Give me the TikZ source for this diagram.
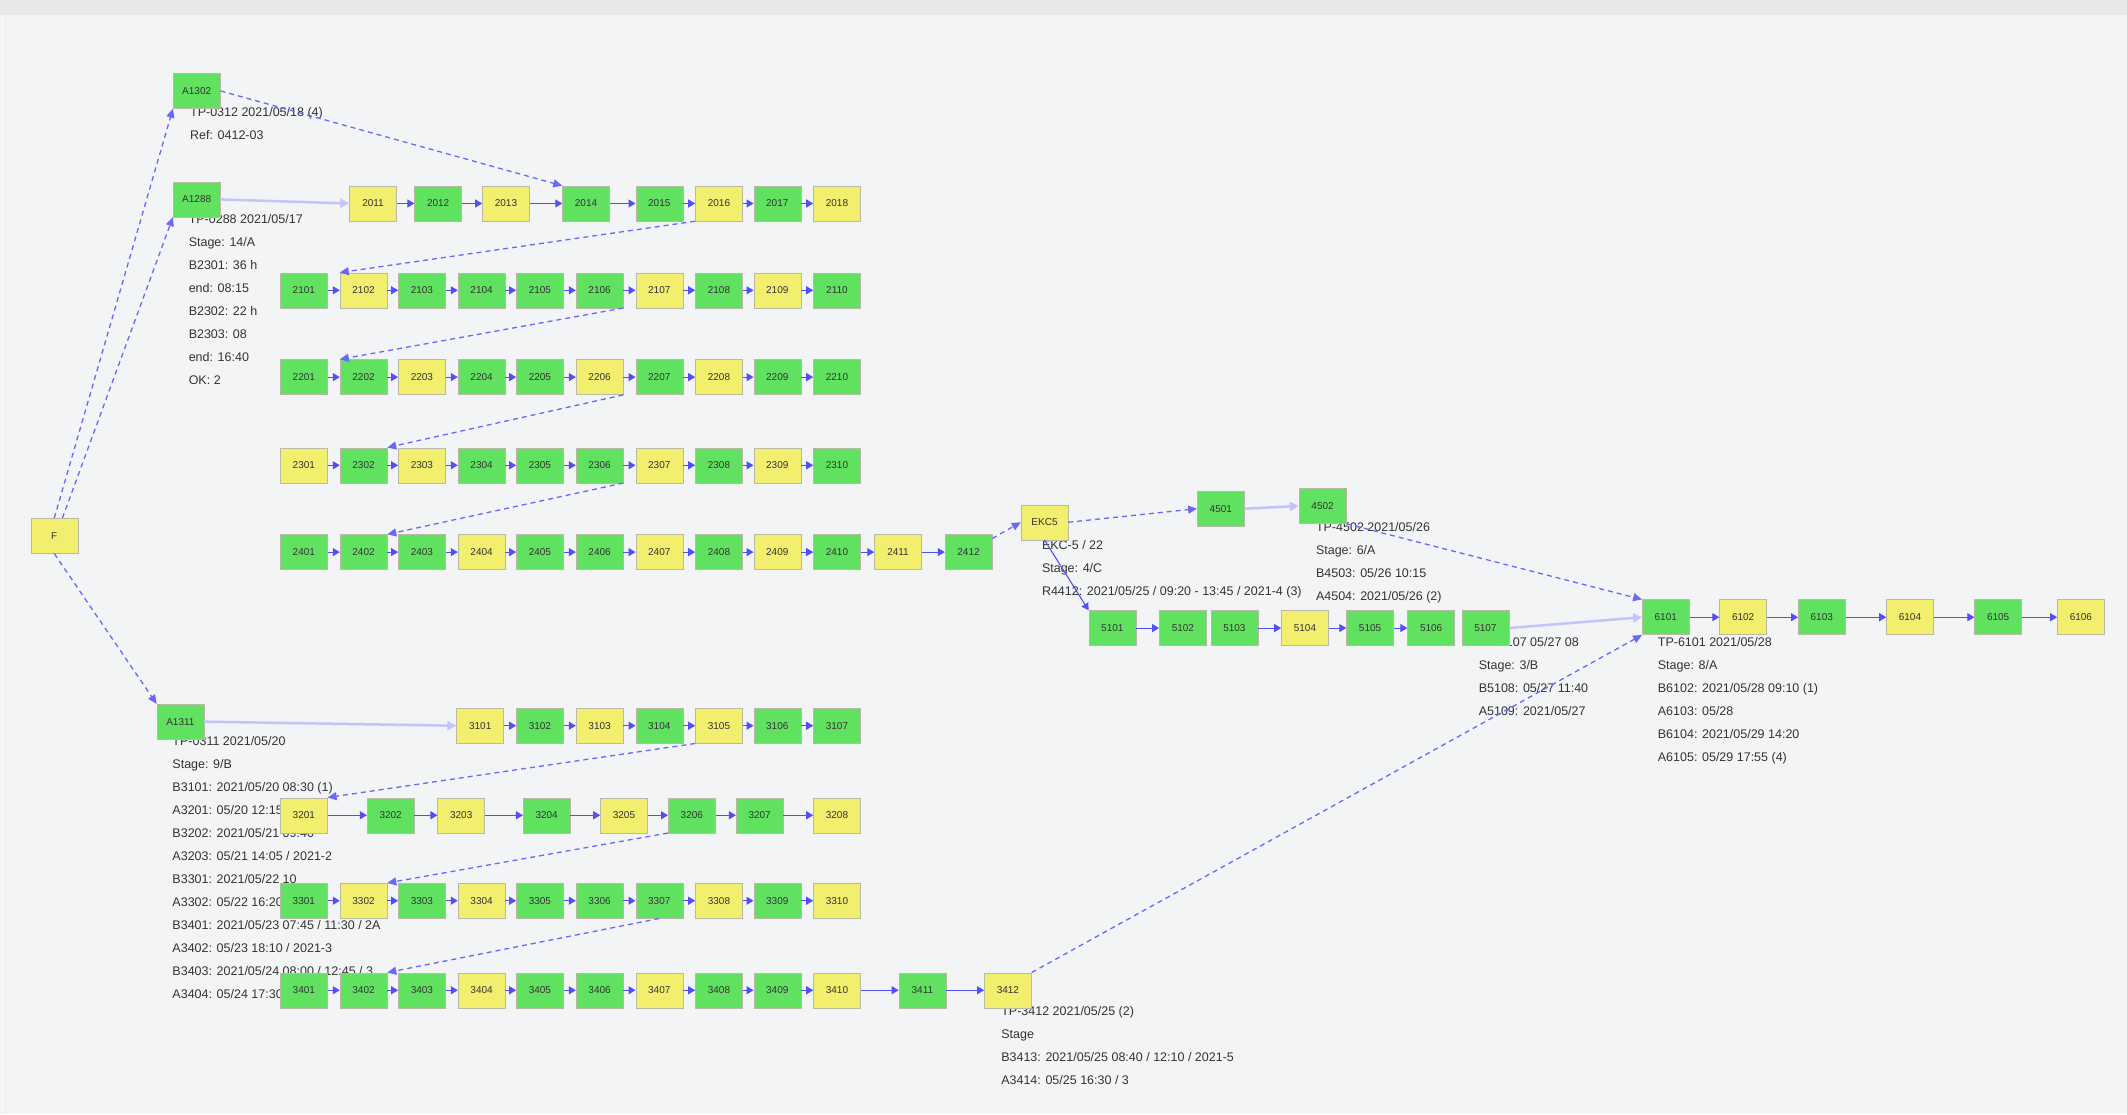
\documentclass[tikz,border=0pt]{standalone}
\usepackage{fontspec}
\setmainfont{Liberation Sans}
\usetikzlibrary{arrows.meta}
\definecolor{bgc}{RGB}{243,244,246}
\definecolor{topc}{RGB}{231,232,234}
\definecolor{ng}{RGB}{96,226,96}
\definecolor{ny}{RGB}{242,238,110}
\definecolor{boxedge}{RGB}{185,185,165}
\definecolor{arrc}{RGB}{80,80,245}
\definecolor{dashc}{RGB}{105,105,245}
\definecolor{lavc}{RGB}{196,196,250}
\tikzset{
 box/.style={draw=boxedge, line width=0.5pt, minimum width=47pt, minimum height=35pt, inner sep=0pt, font=\fontsize{10}{11}\selectfont, text=black!80},
 arr/.style={-{Triangle[length=7pt,width=8pt]}, draw=arrc, line width=1.1pt},
 dlink/.style={-{Triangle[length=9pt,width=8pt]}, draw=dashc, line width=1.3pt, dash pattern=on 5pt off 4pt},
 slink/.style={-{Triangle[length=9pt,width=9pt]}, draw=lavc, line width=2.5pt},
 lbl/.style={anchor=north west, align=left, inner sep=0pt, font=\fontsize{12.5}{23}\selectfont, text=black!80},
}
\newcommand{\mkrow}[3]{\foreach \x/\c/\t [count=\i] in {#3} {\node[box,fill=\c] (#1-\i) at (\x,#2) {\t};}}
\newcommand{\linkrow}[2]{\foreach \i [remember=\i as \p (initially 1)] in {2,...,#2} {\draw[arr] (#1-\p) -- (#1-\i);}}
\begin{document}
\begin{tikzpicture}[x=1.3565pt,y=-1.3565pt]
\fill[bgc] (0,0) rectangle (1568,821);
\fill[topc] (0,0) rectangle (1568,11);
\draw[black!7, line width=1pt] (4,11) -- (4,821);
\useasboundingbox (0,0) rectangle (1568,821);

% labels (drawn under the boxes)
\node[lbl] (la1) at (140,79) {TP-0312 2021/05/18 (4)\\Ref: 0412-03};
\node[lbl] (la2) at (139,158) {TP-0288 2021/05/17\\Stage: 14/A\\B2301: 36 h\\end: 08:15\\B2302: 22 h\\B2303: 08\\end: 16:40\\OK: 2};
\node[lbl] (la3) at (127,543) {TP-0311 2021/05/20\\Stage: 9/B\\B3101: 2021/05/20 08:30 (1)\\A3201: 05/20 12:15\\B3202: 2021/05/21 09:40\\A3203: 05/21 14:05 / 2021-2\\B3301: 2021/05/22 10\\A3302: 05/22 16:20\\B3401: 2021/05/23 07:45 / 11:30 / 2A\\A3402: 05/23 18:10 / 2021-3\\B3403: 2021/05/24 08:00 / 12:45 / 3\\A3404: 05/24 17:30 (2)};
\node[lbl] (lekc) at (768,398) {EKC-5 / 22\\Stage: 4/C\\R4412: 2021/05/25 / 09:20 - 13:45 / 2021-4 (3)};
\node[lbl] (lm2) at (970,385) {TP-4502 2021/05/26\\Stage: 6/A\\B4503: 05/26 10:15\\A4504: 2021/05/26 (2)};
\node[lbl] (lrm) at (1090,470) {TP-5107 05/27 08\\Stage: 3/B\\B5108: 05/27 11:40\\A5109: 2021/05/27};
\node[lbl] (lb) at (1222,470) {TP-6101 2021/05/28\\Stage: 8/A\\B6102: 2021/05/28 09:10 (1)\\A6103: 05/28\\B6104: 2021/05/29 14:20\\A6105: 05/29 17:55 (4)};
\node[lbl] (lr9) at (738,742) {TP-3412 2021/05/25 (2)\\Stage\\B3413: 2021/05/25 08:40 / 12:10 / 2021-5\\A3414: 05/25 16:30 / 3};

% root and branch heads
\node[box,fill=ny] (root) at (40,395) {F};
\node[box,fill=ng] (a1) at (145,67) {A1302};
\node[box,fill=ng] (a2) at (145,147) {A1288};
\node[box,fill=ng] (a3) at (133,532) {A1311};

% top group rows
\mkrow{r1}{150}{275/ny/2011,323/ng/2012,373/ny/2013,432/ng/2014,486/ng/2015,530/ny/2016,573/ng/2017,617/ny/2018}
\mkrow{r2}{214}{224/ng/2101,268/ny/2102,311/ng/2103,355/ng/2104,398/ng/2105,442/ng/2106,486/ny/2107,530/ng/2108,573/ny/2109,617/ng/2110}
\mkrow{r3}{278}{224/ng/2201,268/ng/2202,311/ny/2203,355/ng/2204,398/ng/2205,442/ny/2206,486/ng/2207,530/ny/2208,573/ng/2209,617/ng/2210}
\mkrow{r4}{343}{224/ny/2301,268/ng/2302,311/ny/2303,355/ng/2304,398/ng/2305,442/ng/2306,486/ny/2307,530/ng/2308,573/ny/2309,617/ng/2310}
\mkrow{r5}{407}{224/ng/2401,268/ng/2402,311/ng/2403,355/ny/2404,398/ng/2405,442/ng/2406,486/ny/2407,530/ng/2408,573/ny/2409,617/ng/2410,662/ny/2411,714/ng/2412}
% bottom group rows
\mkrow{r6}{535}{354/ny/3101,398/ng/3102,442/ny/3103,486/ng/3104,530/ny/3105,573/ng/3106,617/ng/3107}
\mkrow{r7}{601}{224/ny/3201,288/ng/3202,340/ny/3203,403/ng/3204,460/ny/3205,510/ng/3206,560/ng/3207,617/ny/3208}
\mkrow{r8}{664}{224/ng/3301,268/ny/3302,311/ng/3303,355/ny/3304,398/ng/3305,442/ng/3306,486/ng/3307,530/ny/3308,573/ng/3309,617/ny/3310}
\mkrow{r9}{730}{224/ng/3401,268/ng/3402,311/ng/3403,355/ny/3404,398/ng/3405,442/ng/3406,486/ny/3407,530/ng/3408,573/ng/3409,617/ny/3410,680/ng/3411,743/ny/3412}

% middle
\node[box,fill=ny] (ekc) at (770,385) {EKC5};
\node[box,fill=ng] (m1) at (900,375) {4501};
\node[box,fill=ng] (m2) at (975,373) {4502};
\mkrow{rm}{463}{820/ng/5101,872/ng/5102,910/ng/5103,962/ny/5104,1010/ng/5105,1055/ng/5106,1095/ng/5107}
% right chain
\mkrow{b}{455}{1228/ng/6101,1285/ny/6102,1343/ng/6103,1408/ny/6104,1473/ng/6105,1534/ny/6106}

% chains
\linkrow{r1}{8}
\linkrow{r2}{10}
\linkrow{r3}{10}
\linkrow{r4}{10}
\linkrow{r5}{12}
\linkrow{r6}{7}
\linkrow{r7}{8}
\linkrow{r8}{10}
\linkrow{r9}{12}
\linkrow{b}{6}
\draw[arr] (rm-1) -- (rm-2);
\draw[arr] (rm-3) -- (rm-4);
\draw[arr] (rm-4) -- (rm-5);
\draw[arr] (rm-5) -- (rm-6);

% branches from root
\draw[dlink] (root.north) -- (a1.south west);
\draw[dlink] (root.north) ++(6,0) -- (a2.south west);
\draw[dlink] (root.south) -- (a3.north west);
\draw[dlink] (a1.east) -- (r1-4.north west);
\draw[slink] (a2.east) -- (r1-1.west);
\draw[slink] (a3.east) -- (r6-1.west);

% wraps between rows
\draw[dlink] (r1-6.south west) -- (r2-2.north west);
\draw[dlink] (r2-6.south east) -- (r3-2.north west);
\draw[dlink] (r3-6.south east) -- (r4-2.north east);
\draw[dlink] (r4-6.south east) -- (r5-2.north east);
\draw[dlink] (r6-5.south west) -- (r7-1.north east);
\draw[dlink] (r7-6.south west) -- (r8-2.north east);
\draw[dlink] (r8-7.south) -- (r9-2.north east);

% middle connections
\draw[dlink] (r5-12) -- (ekc.west);
\draw[dlink] (ekc.east) -- (m1.west);
\draw[slink] (m1.east) -- (m2.west);
\draw[arr] (ekc.south) -- (rm-1.north west);
\draw[dlink] (m2.south east) -- (b-1.north west);
\draw[slink] (rm-7.east) -- (b-1.west);
\draw[dlink] (r9-12.north east) -- (b-1.south west);
\end{tikzpicture}
\end{document}
